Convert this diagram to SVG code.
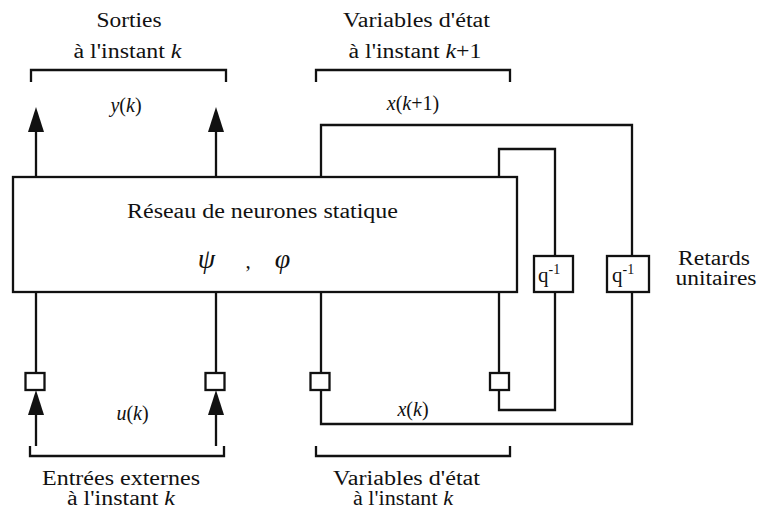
<svg xmlns="http://www.w3.org/2000/svg" width="760" height="513" viewBox="0 0 760 513">
<style>
  text { font-family: "Times New Roman", Times, "Liberation Serif", Tinos, "Noto Serif", "DejaVu Serif", serif; fill: #111; }
  .lbl { font-size: 20px; }
  .i { font-style: italic; }
  .box { fill: #fff; stroke: #111; stroke-width: 2.3; }
  .wire { fill: none; stroke: #111; stroke-width: 2.3; }
  .br { fill: none; stroke: #111; stroke-width: 2.3; }
</style>
<defs>
  <marker id="ah" markerUnits="userSpaceOnUse" markerWidth="26" markerHeight="16" viewBox="0 0 26 16" refX="15" refY="8" orient="auto">
    <path d="M0,0 L25,8 L0,16 z" fill="#111"/>
  </marker>
</defs>
<rect width="760" height="513" fill="#fff"/>

<g id="connectors">
  <line class="wire" x1="36" y1="177" x2="36" y2="117" marker-end="url(#ah)"/>
  <line class="wire" x1="216" y1="177" x2="216" y2="117" marker-end="url(#ah)"/>
  <line class="wire" x1="36" y1="446" x2="36" y2="400" marker-end="url(#ah)"/>
  <line class="wire" x1="216" y1="446" x2="216" y2="400" marker-end="url(#ah)"/>
  <line class="wire" x1="36" y1="292" x2="36" y2="373"/>
  <line class="wire" x1="216" y1="292" x2="216" y2="373"/>
  <line class="wire" x1="321" y1="292" x2="321" y2="373"/>
  <line class="wire" x1="499" y1="292" x2="499" y2="373"/>
  <polyline class="wire" points="321,177 321,125 632,125 632,256"/>
  <polyline class="wire" points="632,292 632,424 321,424 321,390"/>
  <polyline class="wire" points="499,177 499,149 555,149 555,256"/>
  <polyline class="wire" points="555,292 555,410 499,410 499,390"/>
</g>

<g id="network">
  <rect class="box" x="13" y="177" width="504" height="115"/>
  <text class="lbl" x="262.5" y="218" text-anchor="middle" textLength="271" lengthAdjust="spacingAndGlyphs">Réseau de neurones statique</text>
  <text x="206.5" y="268" text-anchor="middle" font-size="28" class="i">ψ</text>
  <text x="248" y="268" text-anchor="middle" font-size="21">,</text>
  <text x="282.5" y="268" text-anchor="middle" font-size="28" class="i">φ</text>
</g>

<g id="delay1">
  <rect class="box" x="534" y="256" width="39" height="36"/>
  <text x="538" y="282" font-size="21">q<tspan font-size="14" dy="-8">-1</tspan></text>
</g>
<g id="delay2">
  <rect class="box" x="607" y="256" width="42" height="36"/>
  <text x="612" y="282" font-size="21">q<tspan font-size="14" dy="-8">-1</tspan></text>
</g>

<g id="sq1"><rect class="box" x="25.5" y="373" width="19" height="17"/></g>
<g id="sq2"><rect class="box" x="205.5" y="373" width="19" height="17"/></g>
<g id="sq3"><rect class="box" x="310.5" y="373" width="19" height="17"/></g>
<g id="sq4"><rect class="box" x="490" y="373" width="19" height="17"/></g>

<g id="brackets">
  <polyline class="br" points="31,82 31,70 226,70 226,82"/>
  <polyline class="br" points="316,82 316,70 510,70 510,82"/>
  <polyline class="br" points="30,446 30,456 224,456 224,446"/>
  <polyline class="br" points="316,446 316,456 510,456 510,446"/>
</g>

<g id="labels">
  <text class="lbl" x="129" y="27" text-anchor="middle" textLength="65" lengthAdjust="spacingAndGlyphs">Sorties</text>
  <text class="lbl" x="127.5" y="58" text-anchor="middle" textLength="108" lengthAdjust="spacingAndGlyphs">à l'instant <tspan class="i">k</tspan></text>
  <text class="lbl" x="416.5" y="27" text-anchor="middle" textLength="147" lengthAdjust="spacingAndGlyphs">Variables d'état</text>
  <text class="lbl" x="415" y="58" text-anchor="middle" textLength="133" lengthAdjust="spacingAndGlyphs">à l'instant <tspan class="i">k</tspan>+1</text>
  <text class="lbl" x="126" y="112" text-anchor="middle"><tspan class="i">y</tspan>(<tspan class="i">k</tspan>)</text>
  <text class="lbl" x="413" y="110" text-anchor="middle"><tspan class="i">x</tspan>(<tspan class="i">k</tspan>+1)</text>
  <text class="lbl" x="132.5" y="420" text-anchor="middle"><tspan class="i">u</tspan>(<tspan class="i">k</tspan>)</text>
  <text class="lbl" x="413" y="416" text-anchor="middle"><tspan class="i">x</tspan>(<tspan class="i">k</tspan>)</text>
  <text class="lbl" x="714" y="265" text-anchor="middle" textLength="72" lengthAdjust="spacingAndGlyphs">Retards</text>
  <text class="lbl" x="716" y="285" text-anchor="middle" textLength="81" lengthAdjust="spacingAndGlyphs">unitaires</text>
  <text class="lbl" x="121" y="485" text-anchor="middle" textLength="158" lengthAdjust="spacingAndGlyphs">Entrées externes</text>
  <text class="lbl" x="121" y="505" text-anchor="middle" textLength="108" lengthAdjust="spacingAndGlyphs">à l'instant <tspan class="i">k</tspan></text>
  <text class="lbl" x="406.5" y="485" text-anchor="middle" textLength="147" lengthAdjust="spacingAndGlyphs">Variables d'état</text>
  <text class="lbl" x="403" y="505" text-anchor="middle" textLength="100" lengthAdjust="spacingAndGlyphs">à l'instant <tspan class="i">k</tspan></text>
</g>
</svg>
